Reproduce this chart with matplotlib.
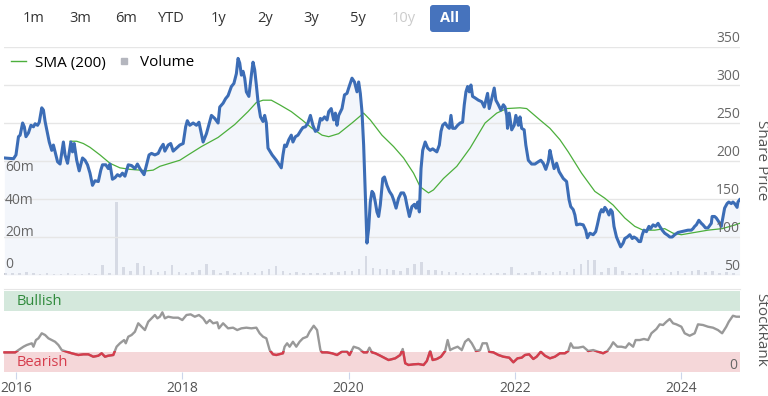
import numpy as np
import matplotlib
matplotlib.use("Agg")
import matplotlib.pyplot as plt
import matplotlib.transforms as mtransforms
from matplotlib.lines import Line2D
from matplotlib.patches import Rectangle, FancyBboxPatch

plt.rcParams['font.family'] = ['Open Sans', 'DejaVu Sans']

# ---- data ----
price_t = [2015.86, 2015.97, 2016.00, 2016.03, 2016.05, 2016.08, 2016.10, 2016.12, 2016.15, 2016.18, 2016.21, 2016.23, 2016.26, 2016.28, 2016.31, 2016.33, 2016.35, 2016.40, 2016.43, 2016.45, 2016.47, 2016.50, 2016.53, 2016.57, 2016.59, 2016.62, 2016.66, 2016.68, 2016.70, 2016.73, 2016.76, 2016.80, 2016.83, 2016.86, 2016.89, 2016.92, 2016.95, 2016.99,
           2017.02, 2017.04, 2017.08, 2017.11, 2017.13, 2017.16, 2017.19, 2017.22, 2017.25, 2017.28, 2017.31, 2017.35, 2017.39, 2017.43, 2017.46, 2017.49, 2017.54, 2017.57, 2017.60, 2017.63, 2017.67, 2017.71, 2017.74, 2017.77, 2017.79, 2017.83, 2017.86, 2017.89, 2017.93, 2017.97,
           2018.01, 2018.04, 2018.06, 2018.09, 2018.13, 2018.17, 2018.20, 2018.23, 2018.25, 2018.29, 2018.35, 2018.39, 2018.43, 2018.45, 2018.49, 2018.52, 2018.55, 2018.59, 2018.62, 2018.65, 2018.67, 2018.69, 2018.71, 2018.73, 2018.75, 2018.77, 2018.80, 2018.83, 2018.85, 2018.87, 2018.89, 2018.91, 2018.94, 2018.97, 2018.99,
           2019.01, 2019.03, 2019.08, 2019.13, 2019.19, 2019.21, 2019.23, 2019.25, 2019.28, 2019.31, 2019.33, 2019.36, 2019.39, 2019.43, 2019.45, 2019.48, 2019.51, 2019.54, 2019.57, 2019.60, 2019.63, 2019.66, 2019.68, 2019.71, 2019.74, 2019.76, 2019.79, 2019.82, 2019.84, 2019.86, 2019.88, 2019.92, 2019.95, 2019.98,
           2020.00, 2020.04, 2020.07, 2020.10, 2020.12, 2020.14, 2020.16, 2020.18, 2020.20, 2020.22, 2020.24, 2020.26, 2020.28, 2020.30, 2020.32, 2020.34, 2020.36, 2020.38, 2020.41, 2020.43, 2020.46, 2020.49, 2020.52, 2020.54, 2020.57, 2020.60, 2020.63, 2020.66, 2020.68, 2020.70, 2020.73, 2020.76, 2020.79, 2020.81, 2020.83, 2020.85, 2020.87, 2020.89, 2020.92, 2020.95, 2020.98,
           2021.01, 2021.06, 2021.09, 2021.11, 2021.13, 2021.16, 2021.19, 2021.21, 2021.23, 2021.25, 2021.28, 2021.31, 2021.34, 2021.37, 2021.39, 2021.41, 2021.43, 2021.45, 2021.47, 2021.49, 2021.52, 2021.56, 2021.60, 2021.63, 2021.65, 2021.67, 2021.69, 2021.72, 2021.75, 2021.77, 2021.80, 2021.83, 2021.86, 2021.88, 2021.90, 2021.91, 2021.93, 2021.96, 2021.99,
           2022.01, 2022.04, 2022.06, 2022.08, 2022.11, 2022.13, 2022.16, 2022.20, 2022.24, 2022.28, 2022.31, 2022.34, 2022.37, 2022.40, 2022.42, 2022.44, 2022.47, 2022.50, 2022.53, 2022.58, 2022.62, 2022.65, 2022.67, 2022.70, 2022.72, 2022.74, 2022.78, 2022.82, 2022.85, 2022.87, 2022.90, 2022.94, 2022.97, 2022.99,
           2023.02, 2023.04, 2023.06, 2023.08, 2023.10, 2023.13, 2023.15, 2023.17, 2023.19, 2023.22, 2023.25, 2023.27, 2023.30, 2023.32, 2023.35, 2023.38, 2023.41, 2023.43, 2023.46, 2023.49, 2023.51, 2023.53, 2023.55, 2023.58, 2023.61, 2023.63, 2023.66, 2023.69, 2023.72, 2023.74, 2023.77, 2023.80, 2023.84, 2023.86, 2023.89, 2023.92, 2023.96,
           2024.00, 2024.04, 2024.08, 2024.12, 2024.14, 2024.16, 2024.18, 2024.21, 2024.24, 2024.26, 2024.29, 2024.32, 2024.36, 2024.37, 2024.40, 2024.42, 2024.45, 2024.48, 2024.49, 2024.52, 2024.55, 2024.57, 2024.60, 2024.62, 2024.64, 2024.67, 2024.68, 2024.70]
price_v = [204, 203, 208, 232, 234, 250, 245, 232, 237, 247, 245, 249, 247, 251, 270, 267, 252, 225, 214, 221, 212, 199, 196, 225, 208, 197, 225, 212, 223, 201, 187, 204, 201, 195, 184, 168, 174, 173,
           188, 195, 195, 190, 196, 176, 178, 182, 180, 184, 180, 195, 194, 190, 196, 190, 182, 195, 208, 210, 208, 210, 217, 222, 213, 221, 223, 213, 217, 221,
           223, 245, 253, 247, 250, 247, 251, 235, 225, 236, 260, 256, 250, 271, 276, 282, 286, 298, 302, 315, 335, 329, 313, 318, 309, 291, 285, 313, 330, 320, 300, 278, 258, 252, 260,
           250, 217, 208, 201, 191, 208, 221, 219, 228, 234, 225, 232, 234, 241, 244, 245, 250, 260, 247, 239, 241, 256, 254, 258, 254, 265, 269, 254, 263, 247, 260, 269, 287, 289,
           296, 309, 304, 291, 304, 289, 265, 221, 155, 92, 111, 146, 160, 157, 146, 133, 127, 142, 177, 179, 168, 160, 155, 149, 138, 151, 158, 158, 153, 142, 127, 140, 143, 138, 146, 133, 190, 214, 225, 217, 214,
           216, 212, 221, 239, 247, 250, 245, 243, 260, 243, 243, 247, 250, 251, 274, 291, 298, 291, 300, 285, 283, 280, 278, 271, 280, 289, 269, 282, 296, 280, 274, 267, 274, 271, 260, 243, 263, 241, 247,
           260, 247, 258, 243, 241, 221, 201, 196, 196, 199, 201, 197, 189, 199, 214, 204, 190, 197, 186, 177, 173, 149, 140, 136, 129, 116, 117, 116, 109, 99, 105, 103, 107, 116,
           131, 136, 133, 139, 136, 129, 136, 133, 114, 100, 92, 87, 92, 98, 100, 103, 98, 100, 98, 94, 94, 103, 109, 107, 114, 111, 116, 114, 118, 114, 109, 105, 102, 100, 100, 103, 106,
           107, 108, 109, 109, 111, 114, 116, 122, 118, 116, 112, 112, 118, 127, 127, 125, 120, 114, 120, 138, 144, 146, 144, 146, 144, 139, 146, 149]

sma_t = [2016.65, 2016.73, 2016.81, 2016.89, 2017.01, 2017.13, 2017.25, 2017.37, 2017.49, 2017.57, 2017.65, 2017.73, 2017.85, 2017.97,
         2018.07, 2018.23, 2018.43, 2018.63, 2018.79, 2018.89, 2018.97, 2019.07, 2019.17, 2019.31, 2019.44, 2019.56, 2019.68, 2019.76, 2019.88,
         2020.04, 2020.18, 2020.26, 2020.40, 2020.54, 2020.66, 2020.78, 2020.86, 2020.96, 2021.02, 2021.14, 2021.30, 2021.46, 2021.64, 2021.78, 2021.90,
         2022.06, 2022.14, 2022.30, 2022.42, 2022.54, 2022.64, 2022.80, 2022.96, 2023.08, 2023.18, 2023.32, 2023.44, 2023.54, 2023.68, 2023.80, 2023.90,
         2024.00, 2024.16, 2024.32, 2024.49, 2024.65, 2024.70]
sma_v = [226, 226, 223, 218, 208, 197, 191, 189, 188, 187, 188, 193, 197, 201,
         208, 219, 231, 248, 265, 277, 280, 280, 274, 265, 254, 243, 234, 232, 236,
         250, 263, 254, 234, 219, 204, 184, 166, 158, 162, 177, 193, 217, 250, 263, 269,
         270, 269, 254, 243, 228, 212, 184, 160, 151, 142, 125, 114, 109, 109, 111, 105,
         103, 106, 109, 111, 116, 118]

# monthly volume, Nov 2015 .. Aug 2024 (millions)
volume_m = [1.0, 1.5,
            1.2, 1.8, 1.0, 0.8, 1.5, 0.6, 0.5, 1.2, 0.8, 0.6, 1.0, 0.8,
            6.0, 1.5, 45.0, 5.0, 2.5, 7.5, 5.5, 3.0, 2.0, 2.5, 6.0, 2.0,
            1.5, 2.0, 3.0, 6.5, 3.0, 1.5, 2.5, 1.5, 2.0, 2.0, 1.5, 2.5,
            3.5, 5.5, 2.5, 1.5, 2.0, 1.5, 1.0, 1.5, 1.5, 2.0, 2.0, 2.5,
            2.5, 4.0, 12.0, 4.5, 4.0, 3.5, 3.0, 2.5, 4.5, 6.5, 8.0, 3.0,
            3.0, 2.5, 2.0, 2.0, 1.5, 1.5, 1.5, 1.5, 1.5, 1.0, 1.5, 5.0,
            1.5, 1.0, 2.0, 2.5, 1.5, 2.0, 2.5, 2.0, 4.0, 7.0, 9.0, 9.0,
            2.0, 4.5, 5.0, 2.5, 1.5, 1.0, 4.0, 1.0, 1.5, 1.0, 2.0, 2.5,
            1.5, 2.5, 3.0, 2.0, 2.5, 1.0, 2.0, 1.0]

rank_t = [2015.86, 2015.99, 2016.03, 2016.09, 2016.13, 2016.19, 2016.21, 2016.24, 2016.27, 2016.31, 2016.35, 2016.39, 2016.43, 2016.47, 2016.51, 2016.55, 2016.61, 2016.67, 2016.75, 2016.81, 2016.87, 2016.93, 2016.99,
          2017.03, 2017.07, 2017.11, 2017.17, 2017.21, 2017.25, 2017.30, 2017.32, 2017.35, 2017.39, 2017.43, 2017.47, 2017.51, 2017.55, 2017.59, 2017.63, 2017.67, 2017.70, 2017.73, 2017.76, 2017.79, 2017.83, 2017.89, 2017.95,
          2018.00, 2018.05, 2018.10, 2018.15, 2018.20, 2018.25, 2018.29, 2018.33, 2018.37, 2018.42, 2018.44, 2018.49, 2018.55, 2018.61, 2018.66, 2018.71, 2018.77, 2018.83, 2018.89, 2018.93, 2018.97,
          2019.01, 2019.05, 2019.09, 2019.13, 2019.21, 2019.23, 2019.26, 2019.29, 2019.33, 2019.37, 2019.41, 2019.45, 2019.50, 2019.53, 2019.58, 2019.62, 2019.66, 2019.68, 2019.74, 2019.80, 2019.86, 2019.92, 2019.98,
          2020.01, 2020.06, 2020.12, 2020.18, 2020.22, 2020.25, 2020.28, 2020.32, 2020.38, 2020.48, 2020.56, 2020.62, 2020.65, 2020.68, 2020.72, 2020.78, 2020.84, 2020.90, 2020.94, 2020.98,
          2021.01, 2021.06, 2021.11, 2021.16, 2021.19, 2021.22, 2021.26, 2021.31, 2021.36, 2021.40, 2021.44, 2021.48, 2021.53, 2021.58, 2021.61, 2021.66, 2021.69, 2021.74, 2021.80, 2021.86, 2021.93, 2021.98,
          2022.03, 2022.08, 2022.12, 2022.17, 2022.22, 2022.26, 2022.31, 2022.36, 2022.42, 2022.48, 2022.54, 2022.60, 2022.64, 2022.67, 2022.70, 2022.76, 2022.82, 2022.88, 2022.94,
          2023.00, 2023.06, 2023.11, 2023.15, 2023.18, 2023.23, 2023.28, 2023.33, 2023.37, 2023.42, 2023.45, 2023.50, 2023.55, 2023.60, 2023.64, 2023.70, 2023.74, 2023.78, 2023.82, 2023.86, 2023.90, 2023.94,
          2024.00, 2024.04, 2024.10, 2024.16, 2024.20, 2024.26, 2024.32, 2024.38, 2024.44, 2024.49, 2024.54, 2024.57, 2024.62, 2024.66, 2024.70]
rank_v = [24.5, 24.5, 27.4, 31.5, 33.6, 35.7, 31.5, 39.7, 41.8, 48.0, 45.9, 41.8, 39.7, 37.6, 33.6, 27.4, 25.3, 23.4, 21.3, 22.1, 22.1, 19.2, 20.4,
          23.4, 19.2, 20.4, 21.3, 31.5, 35.7, 39.7, 35.7, 43.8, 45.9, 49.9, 60.3, 56.1, 52.0, 62.2, 66.4, 70.5, 66.4, 68.4, 73.8, 66.4, 68.4, 67.2, 67.2,
          64.3, 70.5, 71.3, 68.4, 70.5, 66.4, 60.3, 64.3, 60.3, 61.5, 54.1, 60.3, 54.1, 54.9, 52.0, 54.1, 54.9, 54.1, 54.9, 48.0, 43.8,
          41.8, 27.4, 22.1, 21.3, 23.4, 31.5, 35.7, 31.5, 37.6, 31.5, 37.6, 41.8, 43.8, 49.9, 57.3, 52.0, 27.4, 24.5, 24.5, 23.4, 21.3, 25.5, 25.5,
          21.3, 31.5, 29.5, 24.5, 24.5, 30.3, 24.5, 23.4, 20.4, 15.1, 17.2, 21.3, 28.7, 11.1, 9.0, 9.8, 10.2, 9.0, 13.9, 26.2,
          15.1, 16.4, 19.2, 26.2, 39.7, 27.4, 29.5, 31.5, 27.4, 37.6, 41.0, 35.7, 26.2, 27.4, 35.7, 35.7, 25.3, 24.5, 21.3, 19.2, 18.0, 12.3,
          17.2, 18.0, 21.3, 22.1, 16.4, 19.2, 25.3, 20.4, 17.2, 19.2, 23.4, 23.4, 26.2, 35.7, 30.3, 30.3, 31.5, 26.2, 27.4,
          25.3, 23.4, 26.2, 31.5, 36.9, 31.5, 31.5, 30.3, 35.7, 31.5, 39.7, 39.7, 41.0, 39.7, 48.0, 53.3, 59.0, 58.2, 62.2, 65.6, 60.3, 59.0,
          56.1, 48.0, 45.0, 48.0, 59.0, 58.2, 56.1, 54.9, 52.0, 48.0, 56.1, 62.2, 69.6, 68.4, 68.4]

price_ticks = [50, 100, 150, 200, 250, 300, 350]
vol_ticks = [0, 20, 40, 60]
year_ticks = [2016, 2018, 2020, 2022, 2024]
buttons = ['1m', '3m', '6m', 'YTD', '1y', '2y', '3y', '5y', '10y', 'All']

# ---- layout ----
W, H = 768, 396
fig = plt.figure(figsize=(W / 100, H / 100), dpi=100)


def fx(px):
    return px / W


def fy(py):
    return 1 - py / H


xmin, xmax = 2015.856, 2024.705
grid_c = '#e6e6e6'
lab_c = '#666666'

ax = fig.add_axes([fx(4), fy(275), 736 / W, 228 / H])
axv = ax.twinx()
ax.set_zorder(axv.get_zorder() + 1)
ax.patch.set_visible(False)

for a in (ax, axv):
    a.set_xlim(xmin, xmax)
    for s in a.spines.values():
        s.set_visible(False)
    a.tick_params(left=False, right=False, bottom=False, top=False,
                  labelleft=False, labelright=False, labelbottom=False)

ax.set_ylim(50, 350)
axv.set_ylim(0, 141)

# volume bars
vol_t = 2015 + (10 + np.arange(len(volume_m)) + 0.5) / 12
axv.bar(vol_t, volume_m, width=0.03, color='#c4c7d0', linewidth=0)

# price grid + fill + lines
for v in price_ticks:
    ax.axhline(v, color=grid_c, lw=1.0, zorder=1.5)
ax.fill_between(price_t, price_v, 50, color='#e9eef8', alpha=0.5, lw=0, zorder=1)
ax.plot(sma_t, sma_v, color='#4caf3c', lw=0.9, zorder=3)
ax.plot(price_t, price_v, color='#3c6db6', lw=2.2, zorder=4,
        solid_joinstyle='round')

off_up = mtransforms.ScaledTranslation(0, 8 / 100, fig.dpi_scale_trans)
tr_r = mtransforms.blended_transform_factory(ax.transAxes, ax.transData) + off_up
for v in price_ticks:
    ax.text(1.0, v, str(v), transform=tr_r, ha='right', va='center',
            fontsize=10, color=lab_c, zorder=5)

# volume labels drawn on the top axes so the fill does not wash them out
off_v = mtransforms.ScaledTranslation(1 / 100, 10 / 100, fig.dpi_scale_trans)
tr_l = mtransforms.blended_transform_factory(axv.transAxes, axv.transData) + off_v
for v in vol_ticks:
    ax.text(0.0, v, '0' if v == 0 else '%dm' % v, transform=tr_l,
            ha='left', va='center', fontsize=10, color=lab_c, zorder=5)

handles = [Line2D([], [], color='#4caf3c', lw=1),
           Line2D([], [], marker='s', ls='', color='#b4b6be', markersize=5)]
fig.legend(handles, ['SMA (200)', 'Volume'], loc='center left',
           bbox_to_anchor=(fx(11), fy(63)), ncol=2, frameon=False,
           handlelength=1.0, handletextpad=0.55, columnspacing=0.7,
           fontsize=11, borderpad=0, borderaxespad=0)

# ---- StockRank panel ----
axr = fig.add_axes([fx(4), fy(372.3), 736 / W, 83.3 / H])
axr.set_xlim(xmin, xmax)
axr.set_ylim(0, 102.5)
for k, s in axr.spines.items():
    s.set_visible(k == 'top')
axr.spines['top'].set_color(grid_c)
axr.axhspan(75, 100, color='#d4e8dc', lw=0)
axr.axhspan(0, 25, color='#f5d7d9', lw=0)
axr.plot(rank_t, rank_v, color='#999999', lw=1.7, zorder=3)
red, = axr.plot(rank_t, rank_v, color='#d63c4c', lw=1.7, zorder=4)
red.set_clip_path(Rectangle((2010, -10), 20, 36, transform=axr.transData))

tr_band = mtransforms.blended_transform_factory(axr.transAxes, axr.transData)
axr.text(13 / 736, 87.5, 'Bullish', transform=tr_band,
         ha='left', va='center', fontsize=10.5, color='#2f8a3c')
axr.text(13 / 736, 12.0, 'Bearish', transform=tr_band,
         ha='left', va='center', fontsize=10.5, color='#d63c4c')
tr_r2 = tr_band + mtransforms.ScaledTranslation(-3 / 100, 7 / 100, fig.dpi_scale_trans)
axr.text(1.0, 0, '0', transform=tr_r2, ha='right', va='center',
         fontsize=10, color=lab_c)

axr.set_yticks([])
axr.set_xticks(year_ticks)
axr.set_xticklabels([str(y) for y in year_ticks])
axr.tick_params(axis='x', length=5, width=0.8, color='#ccd6eb', pad=1.5,
                labelsize=10, labelcolor='#555555')

# axis titles
fig.text(fx(761), fy(160), 'Share Price', rotation=270, ha='center',
         va='center', fontsize=11, color='#555555')
fig.text(fx(761), fy(330), 'StockRank', rotation=270, ha='center',
         va='center', fontsize=11, color='#555555')

# range buttons
btn_x = [34, 80, 126, 171.5, 219, 265, 311, 357.5, 404, 450]
fig.add_artist(FancyBboxPatch((430, H - 32), 40, 27,
                              boxstyle='round,pad=0,rounding_size=3',
                              transform=mtransforms.IdentityTransform(),
                              facecolor='#4673bd', edgecolor='none'))
for name, bx in zip(buttons, btn_x):
    if name == 'All':
        fig.text(fx(bx), fy(18), name, ha='center', va='center',
                 fontsize=10.5, color='white', fontweight='bold')
    else:
        fig.text(fx(bx), fy(18), name, ha='center', va='center',
                 fontsize=10.5, color='#cccccc' if name == '10y' else '#333333')

fig.savefig('out.png', dpi=100)
